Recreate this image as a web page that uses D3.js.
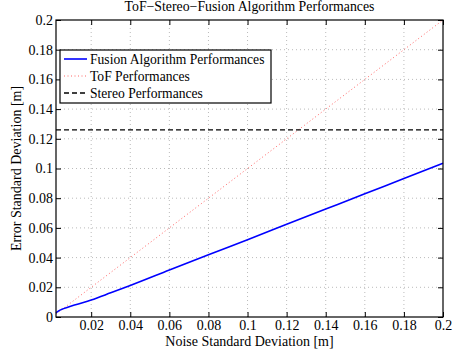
<!DOCTYPE html>
<html>
<head>
<meta charset="utf-8">
<script src="https://cdn.jsdelivr.net/npm/d3@7"></script>
<style>
  body { margin: 0; background: #fff; }
  svg text { font-family: "Liberation Serif", "Times New Roman", Times, serif !important; fill: #000; }
</style>
</head>
<body>
<svg id="chart" width="454" height="354"></svg>
<script>
// Noise standard deviation samples [m]
const noise = [0.002, 0.003, 0.005, 0.008, 0.012, 0.016, 0.02, 0.03, 0.04, 0.06, 0.08, 0.1, 0.12, 0.14, 0.16, 0.18, 0.2];
// Fusion algorithm error std [m]
const fusion = [0.0028, 0.0038, 0.0052, 0.0066, 0.0082, 0.0098, 0.0115, 0.0163, 0.0212, 0.0316, 0.0419, 0.0521, 0.0624, 0.0727, 0.083, 0.0932, 0.1035];
// ToF error std [m]
const tof = [0.002, 0.003, 0.005, 0.008, 0.012, 0.016, 0.02, 0.03, 0.04, 0.06, 0.08, 0.1, 0.12, 0.14, 0.16, 0.18, 0.2];
// Stereo error std (constant) [m]
const stereo = 0.126;

const xTicks = [0.02, 0.04, 0.06, 0.08, 0.1, 0.12, 0.14, 0.16, 0.18, 0.2];
const yTicks = [0, 0.02, 0.04, 0.06, 0.08, 0.1, 0.12, 0.14, 0.16, 0.18, 0.2];

const legendItems = [
  { label: 'Fusion Algorithm Performances', color: '#0000ff', dash: null, width: 1.6 },
  { label: 'ToF Performances', color: '#ff6666', dash: '1,2.5', width: 1 },
  { label: 'Stereo Performances', color: '#000', dash: '5,3', width: 1.4 }
];

const margin = { top: 20, right: 11, bottom: 37, left: 56 };
const width = 454 - margin.left - margin.right;
const height = 354 - margin.top - margin.bottom;

const svg = d3.select('#chart');
const g = svg.append('g').attr('transform', `translate(${margin.left},${margin.top})`);

const x = d3.scaleLinear().domain([0.002, 0.2]).range([0, width]);
const y = d3.scaleLinear().domain([0, 0.2]).range([height, 0]);

// Grid
g.append('g')
  .selectAll('line')
  .data(xTicks.slice(0, -1))
  .enter()
  .append('line')
  .attr('x1', d => x(d)).attr('x2', d => x(d))
  .attr('y1', 0).attr('y2', height)
  .attr('stroke', '#bbb').attr('stroke-width', 1).attr('stroke-dasharray', '1,3');

g.append('g')
  .selectAll('line')
  .data(yTicks.slice(1, -1))
  .enter()
  .append('line')
  .attr('x1', 0).attr('x2', width)
  .attr('y1', d => y(d)).attr('y2', d => y(d))
  .attr('stroke', '#bbb').attr('stroke-width', 1).attr('stroke-dasharray', '1,3');

// Axes (ticks inward, MATLAB style)
const xAxis = g.append('g')
  .attr('transform', `translate(0,${height})`)
  .call(d3.axisBottom(x).tickValues(xTicks).tickSizeInner(-5).tickSizeOuter(0).tickPadding(3).tickFormat(d3.format('')));
const yAxis = g.append('g')
  .call(d3.axisLeft(y).tickValues(yTicks).tickSizeInner(-5).tickSizeOuter(0).tickPadding(3).tickFormat(d3.format('')));
g.append('g')
  .attr('transform', `translate(${width},0)`)
  .call(d3.axisRight(y).tickValues(yTicks).tickSizeInner(-5).tickSizeOuter(0).tickFormat(''));
g.append('g')
  .call(d3.axisTop(x).tickValues(xTicks).tickSizeInner(-5).tickSizeOuter(0).tickFormat(''));

g.selectAll('.domain').remove();
g.selectAll('.tick line').attr('stroke', '#000');
xAxis.attr('font-size', 14).attr('font-family', null);
yAxis.attr('font-size', 14).attr('font-family', null);

// Lines
const line = d3.line().x(d => x(d[0])).y(d => y(d[1]));

g.append('path')
  .datum(noise.map((n, i) => [n, tof[i]]))
  .attr('d', line)
  .attr('fill', 'none')
  .attr('stroke', '#ff6666')
  .attr('stroke-width', 1)
  .attr('stroke-dasharray', '1,2.5');

g.append('path')
  .datum(noise.map(n => [n, stereo]))
  .attr('d', line)
  .attr('fill', 'none')
  .attr('stroke', '#000')
  .attr('stroke-width', 1.4)
  .attr('stroke-dasharray', '5,3');

g.append('path')
  .datum(noise.map((n, i) => [n, fusion[i]]))
  .attr('d', d3.line().curve(d3.curveMonotoneX).x(d => x(d[0])).y(d => y(d[1])))
  .attr('fill', 'none')
  .attr('stroke', '#0000ff')
  .attr('stroke-width', 1.6);

// Frame
g.append('rect')
  .attr('width', width).attr('height', height)
  .attr('fill', 'none').attr('stroke', '#000').attr('stroke-width', 1.2);

// Legend
const legend = g.append('g').attr('transform', 'translate(4,30)');
legend.append('rect')
  .attr('width', 211).attr('height', 53)
  .attr('fill', '#fff').attr('stroke', '#000').attr('stroke-width', 1.2);
const item = legend.selectAll('g.item')
  .data(legendItems)
  .enter()
  .append('g')
  .attr('class', 'item')
  .attr('transform', (d, i) => `translate(0,${9 + i * 17})`);
item.append('line')
  .attr('x1', 4).attr('x2', 27)
  .attr('stroke', d => d.color)
  .attr('stroke-width', d => d.width)
  .attr('stroke-dasharray', d => d.dash);
item.append('text')
  .attr('x', 30).attr('dy', '0.35em')
  .style('font-size', '13.6px')
  .text(d => d.label);

// Titles
svg.append('text')
  .attr('x', margin.left + width / 2).attr('y', 11)
  .attr('text-anchor', 'middle')
  .style('font-size', '13.8px')
  .text('ToF−Stereo−Fusion Algorithm Performances');

svg.append('text')
  .attr('x', margin.left + width / 2).attr('y', 346)
  .attr('text-anchor', 'middle')
  .style('font-size', '14px')
  .text('Noise Standard Deviation [m]');

svg.append('text')
  .attr('transform', `translate(21,${margin.top + height / 2}) rotate(-90)`)
  .attr('text-anchor', 'middle')
  .style('font-size', '14px')
  .text('Error Standard Deviation [m]');
</script>
</body>
</html>
